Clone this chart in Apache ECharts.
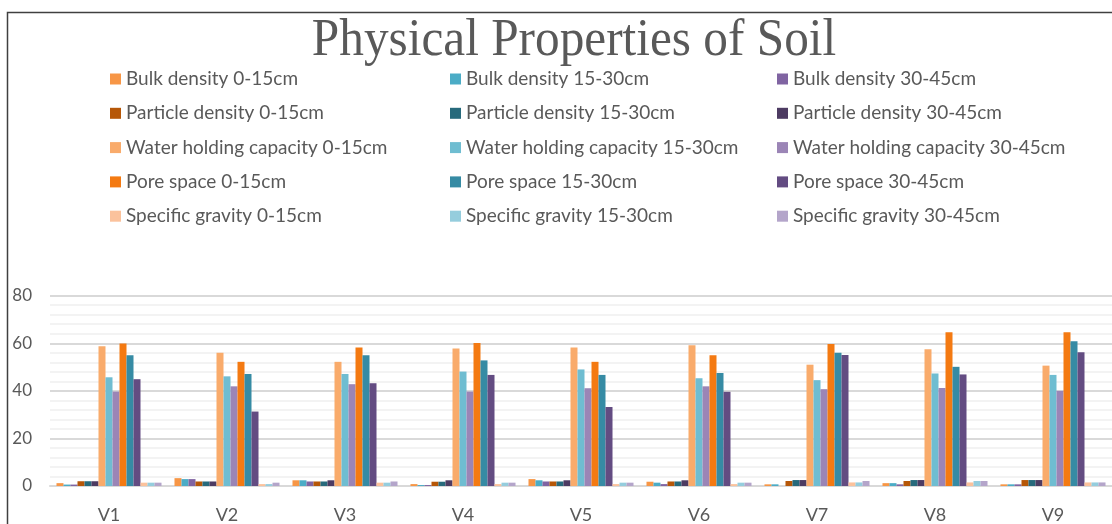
<!DOCTYPE html>
<html>
<head>
<meta charset="utf-8">
<title>Physical Properties of Soil</title>
<script src="https://cdn.jsdelivr.net/npm/echarts@6/dist/echarts.min.js"></script>
<style>
  html, body { margin: 0; padding: 0; background: #ffffff; }
  #chart { width: 1112px; height: 524px; }
</style>
</head>
<body>
<div id="chart"></div>
<script>
// Varieties on the category axis
const categories = ['V1', 'V2', 'V3', 'V4', 'V5', 'V6', 'V7', 'V8', 'V9'];
const yTicks = [0, 20, 40, 60, 80];

// Soil depth layers
const depths = ['0-15cm', '15-30cm', '30-45cm'];

// Bulk density
const bulkDensity0_15  = [1.2, 3.3, 2.4, 0.8, 2.9, 1.8, 0.7, 1.2, 0.7];
const bulkDensity15_30 = [0.6, 2.9, 2.4, 0.4, 2.4, 1.4, 0.7, 1.2, 0.7];
const bulkDensity30_45 = [0.6, 2.9, 1.9, 0.4, 1.9, 0.8, 0.0, 0.7, 0.7];

// Particle density
const particleDensity0_15  = [2.0, 1.9, 1.9, 1.8, 1.9, 1.9, 2.1, 2.1, 2.5];
const particleDensity15_30 = [2.0, 1.9, 1.9, 1.8, 1.9, 1.9, 2.5, 2.5, 2.5];
const particleDensity30_45 = [2.0, 1.9, 2.4, 2.4, 2.4, 2.4, 2.5, 2.5, 2.5];

// Water holding capacity
const waterHolding0_15  = [58.8, 56.0, 52.2, 57.8, 58.2, 59.2, 51.0, 57.5, 50.6];
const waterHolding15_30 = [45.7, 46.1, 47.1, 48.1, 49.0, 45.3, 44.5, 47.3, 46.7];
const waterHolding30_45 = [39.7, 41.9, 42.8, 39.7, 41.1, 41.9, 40.7, 41.2, 40.0];

// Pore space
const poreSpace0_15  = [59.9, 52.2, 58.2, 60.1, 52.2, 55.0, 59.7, 64.6, 64.6];
const poreSpace15_30 = [55.0, 47.1, 55.0, 52.8, 46.7, 47.5, 56.0, 50.1, 60.9];
const poreSpace30_45 = [44.9, 31.3, 43.2, 46.7, 33.2, 39.6, 55.1, 46.9, 56.2];

// Specific gravity
const specificGravity0_15  = [1.4, 0.8, 1.4, 0.8, 0.8, 0.8, 1.5, 1.5, 1.5];
const specificGravity15_30 = [1.4, 0.8, 1.4, 1.4, 1.4, 1.4, 1.5, 2.1, 1.5];
const specificGravity30_45 = [1.4, 1.4, 1.9, 1.4, 1.4, 1.4, 2.1, 2.1, 1.5];

const seriesList = [
  { name: 'Bulk density 0-15cm',              data: bulkDensity0_15,      color: '#F79646' },
  { name: 'Bulk density 15-30cm',             data: bulkDensity15_30,     color: '#4BACC6' },
  { name: 'Bulk density 30-45cm',             data: bulkDensity30_45,     color: '#8064A2' },
  { name: 'Particle density 0-15cm',          data: particleDensity0_15,  color: '#B65708' },
  { name: 'Particle density 15-30cm',         data: particleDensity15_30, color: '#276A7C' },
  { name: 'Particle density 30-45cm',         data: particleDensity30_45, color: '#4D3B62' },
  { name: 'Water holding capacity 0-15cm',    data: waterHolding0_15,     color: '#F9AB6B' },
  { name: 'Water holding capacity 15-30cm',   data: waterHolding15_30,    color: '#6FBDD1' },
  { name: 'Water holding capacity 30-45cm',   data: waterHolding30_45,    color: '#9B85B6' },
  { name: 'Pore space 0-15cm',                data: poreSpace0_15,        color: '#F47A12' },
  { name: 'Pore space 15-30cm',               data: poreSpace15_30,       color: '#368BA4' },
  { name: 'Pore space 30-45cm',               data: poreSpace30_45,       color: '#634C82' },
  { name: 'Specific gravity 0-15cm',          data: specificGravity0_15,  color: '#FBC29C' },
  { name: 'Specific gravity 15-30cm',         data: specificGravity15_30, color: '#95CDDD' },
  { name: 'Specific gravity 30-45cm',         data: specificGravity30_45, color: '#B4A5CA' }
];

const textColor = '#595959';
const uiFont = 'Lato, "Open Sans", sans-serif';

// One legend column per depth layer
const legendLefts = [110, 450, 777];
const legends = depths.map((d, i) => ({
  orient: 'vertical',
  left: legendLefts[i],
  top: 69,
  padding: 0,
  icon: 'rect',
  itemWidth: 11,
  itemHeight: 11,
  itemGap: 14.3,
  selectedMode: false,
  textStyle: { color: textColor, fontFamily: uiFont, fontSize: 19, lineHeight: 20, padding: [0, 0, 0, 0] },
  data: seriesList.filter(s => s.name.endsWith(' ' + d)).map(s => s.name)
}));

const chart = echarts.init(document.getElementById('chart'), null, { renderer: 'canvas' });

chart.setOption({
  animation: false,
  backgroundColor: '#ffffff',
  graphic: [
    {
      type: 'text',
      z: 10,
      x: 574,
      y: 15,
      scaleX: 0.93,
      style: {
        text: 'Physical Properties of Soil',
        x: 0,
        y: 0,
        textAlign: 'center',
        textVerticalAlign: 'top',
        fill: textColor,
        font: '53px "Liberation Serif", serif'
      }
    },
    {
      type: 'polyline',
      z: 10,
      shape: { points: [[7.5, 524], [7.5, 12.5], [1112, 12.5]] },
      style: { stroke: '#404040', lineWidth: 1.5, fill: null }
    }
  ],
  legend: legends,
  grid: {
    left: 50,
    top: 295.7,
    width: 1085,
    height: 191.8,
    containLabel: false
  },
  xAxis: {
    type: 'category',
    data: categories,
    axisTick: { show: false },
    axisLine: { show: true, lineStyle: { color: '#d9d9d9', width: 2 } },
    axisLabel: { color: textColor, fontFamily: uiFont, fontSize: 18, margin: 20 }
  },
  yAxis: {
    type: 'value',
    min: yTicks[0],
    max: yTicks[yTicks.length - 1],
    interval: yTicks[1] - yTicks[0],
    axisLine: { show: false },
    axisTick: { show: false },
    axisLabel: { color: textColor, fontFamily: uiFont, fontSize: 17, margin: 18 },
    splitLine: { show: true, lineStyle: { color: '#d9d9d9', width: 2 } },
    minorTick: { show: false, splitNumber: 5 },
    minorSplitLine: { show: true, lineStyle: { color: '#efefef', width: 1.5 } }
  },
  series: seriesList.map(s => ({
    name: s.name,
    type: 'bar',
    data: s.data,
    barGap: '0%',
    barCategoryGap: '11%',
    itemStyle: { color: s.color },
    emphasis: { disabled: true }
  }))
});
</script>
</body>
</html>
